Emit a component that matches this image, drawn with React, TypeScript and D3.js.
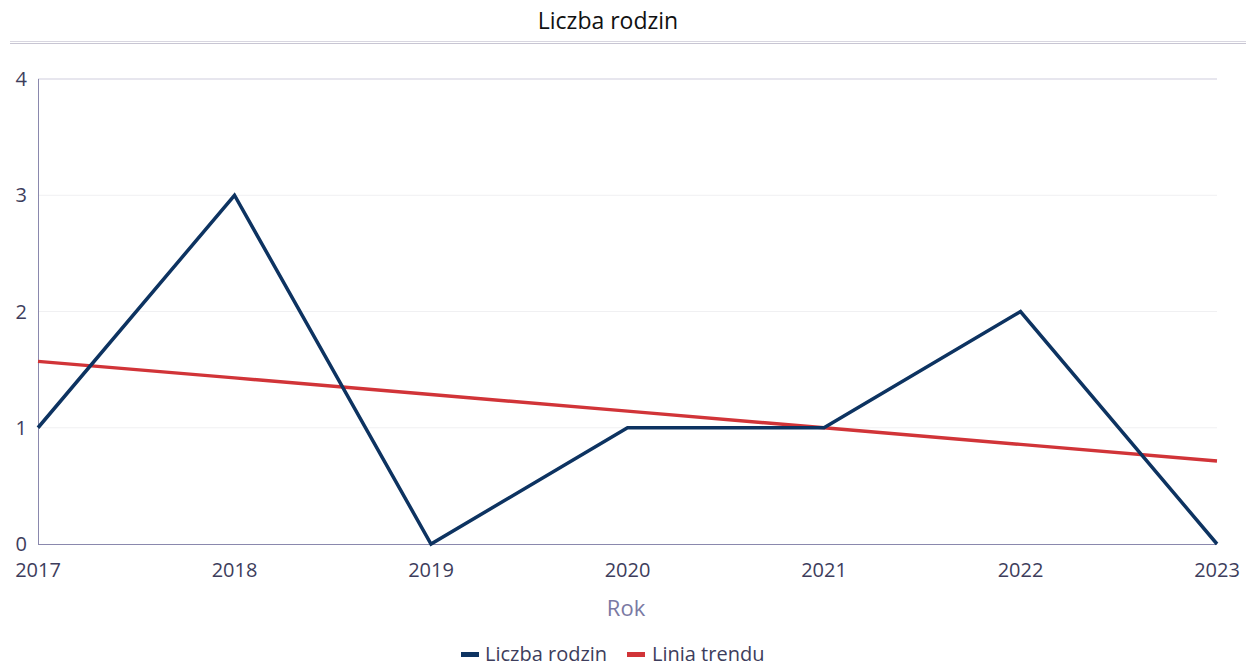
import * as d3 from "d3";

const years = ["2017", "2018", "2019", "2020", "2021", "2022", "2023"];
const families = [1, 3, 0, 1, 1, 2, 0];
const trend = [1.571, 1.429, 1.286, 1.143, 1.0, 0.857, 0.714];
const yTicks = [0, 1, 2, 3, 4];

const width = 1246;
const height = 666;
const marginLeft = 38;
const marginRight = 29;
const marginTop = 79;
const marginBottom = 122;

const navy = "#0d3361";
const red = "#d13438";
const textColor = "#3d3d5c";
const font = "'Open Sans', 'Noto Sans', sans-serif";

export default function App() {
  const x = d3.scalePoint(years, [marginLeft, width - marginRight]);
  const y = d3.scaleLinear([0, 4], [height - marginBottom, marginTop]);
  const line = d3.line<number>(
    (d, i) => x(years[i])!,
    (d) => y(d)
  );

  return (
    <svg
      width={width}
      height={height}
      style={{ position: "absolute", left: 0, top: 0, fontFamily: font }}
    >
      <text x={608} y={29} textAnchor="middle" fontSize={23} fill="#111">
        Liczba rodzin
      </text>
      <line x1={10} x2={width} y1={41.5} y2={41.5} stroke="#d8d6e0" />
      <line x1={10} x2={width} y1={43.5} y2={43.5} stroke="#c8c6d3" />

      {yTicks.map((t) => (
        <g key={t}>
          {t > 0 && (
            <line
              x1={marginLeft}
              x2={width - marginRight}
              y1={y(t)}
              y2={y(t)}
              stroke={t === 4 ? "#cfcddd" : "#f0f0f2"}
            />
          )}
          <text
            x={27}
            y={y(t)}
            dy="0.35em"
            textAnchor="end"
            fontSize={20}
            fill={textColor}
          >
            {t}
          </text>
        </g>
      ))}

      <line
        x1={marginLeft + 0.5}
        x2={marginLeft + 0.5}
        y1={marginTop}
        y2={y(0)}
        stroke="#8a88ad"
      />
      <line
        x1={marginLeft}
        x2={width - marginRight}
        y1={y(0) + 0.5}
        y2={y(0) + 0.5}
        stroke="#8a88ad"
      />

      {years.map((yr) => (
        <text
          key={yr}
          x={x(yr)}
          y={577}
          textAnchor="middle"
          fontSize={20}
          fill={textColor}
        >
          {yr}
        </text>
      ))}

      <text x={626} y={616} textAnchor="middle" fontSize={22} fill="#7a79a3">
        Rok
      </text>

      <path d={line(trend)!} fill="none" stroke={red} strokeWidth={3.5} />
      <path
        d={line(families)!}
        fill="none"
        stroke={navy}
        strokeWidth={3.5}
        strokeLinejoin="miter"
      />

      <g transform="translate(461,654)">
        <rect x={0} y={-2} width={18} height={5} fill={navy} />
        <text x={24} y={0} dy="0.35em" fontSize={20} fill={textColor}>
          Liczba rodzin
        </text>
        <rect x={166} y={-2} width={18} height={5} fill={red} />
        <text x={191} y={0} dy="0.35em" fontSize={20} fill={textColor}>
          Linia trendu
        </text>
      </g>
    </svg>
  );
}
